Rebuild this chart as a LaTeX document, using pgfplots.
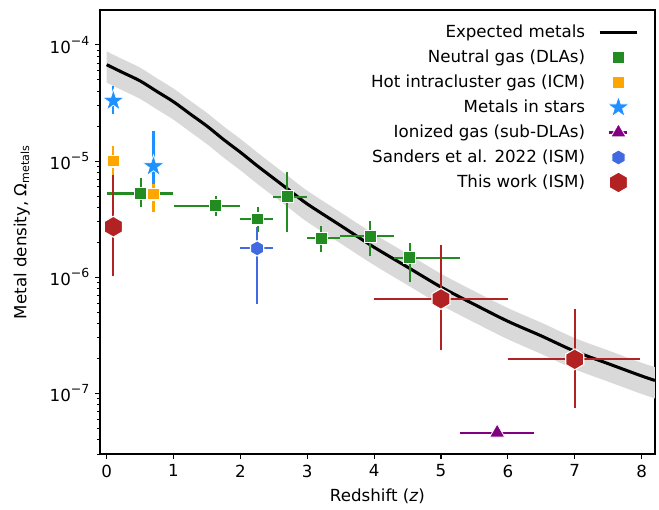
\documentclass[border=0pt,12pt]{standalone}
\usepackage{fontspec}
\setmainfont{DejaVu Sans}
\usepackage{pgfplots}
\usepackage{pgfplotstable}
\pgfplotsset{compat=1.18}
\usepgfplotslibrary{fillbetween}

\definecolor{dlagreen}{HTML}{228B22}
\definecolor{icmorange}{HTML}{FFA500}
\definecolor{starblue}{HTML}{1E90FF}
\definecolor{subpurple}{HTML}{800080}
\definecolor{sandblue}{HTML}{4169E1}
\definecolor{workred}{HTML}{B22222}
\definecolor{bandgray}{HTML}{D9D9D9}

% hexagon, vertex up
\pgfdeclareplotmark{hexa}{%
  \pgfpathmoveto{\pgfqpoint{0pt}{\pgfplotmarksize}}%
  \pgfpathlineto{\pgfqpoint{-0.866\pgfplotmarksize}{0.5\pgfplotmarksize}}%
  \pgfpathlineto{\pgfqpoint{-0.866\pgfplotmarksize}{-0.5\pgfplotmarksize}}%
  \pgfpathlineto{\pgfqpoint{0pt}{-\pgfplotmarksize}}%
  \pgfpathlineto{\pgfqpoint{0.866\pgfplotmarksize}{-0.5\pgfplotmarksize}}%
  \pgfpathlineto{\pgfqpoint{0.866\pgfplotmarksize}{0.5\pgfplotmarksize}}%
  \pgfpathclose
  \pgfusepathqfillstroke
}
% filled five-point star
\pgfdeclareplotmark{fstar}{%
  \pgfpathmoveto{\pgfqpoint{0pt}{\pgfplotmarksize}}%
  \pgfpathlineto{\pgfqpoint{-0.2245\pgfplotmarksize}{0.309\pgfplotmarksize}}%
  \pgfpathlineto{\pgfqpoint{-0.9511\pgfplotmarksize}{0.309\pgfplotmarksize}}%
  \pgfpathlineto{\pgfqpoint{-0.3633\pgfplotmarksize}{-0.118\pgfplotmarksize}}%
  \pgfpathlineto{\pgfqpoint{-0.5878\pgfplotmarksize}{-0.809\pgfplotmarksize}}%
  \pgfpathlineto{\pgfqpoint{0pt}{-0.382\pgfplotmarksize}}%
  \pgfpathlineto{\pgfqpoint{0.5878\pgfplotmarksize}{-0.809\pgfplotmarksize}}%
  \pgfpathlineto{\pgfqpoint{0.3633\pgfplotmarksize}{-0.118\pgfplotmarksize}}%
  \pgfpathlineto{\pgfqpoint{0.9511\pgfplotmarksize}{0.309\pgfplotmarksize}}%
  \pgfpathlineto{\pgfqpoint{0.2245\pgfplotmarksize}{0.309\pgfplotmarksize}}%
  \pgfpathclose
  \pgfusepathqfillstroke
}

\newcommand{\sci}[1]{10\raisebox{0.45em}{\fontsize{9}{9}\selectfont −#1}}

\pgfplotsset{
  lineleg/.style={legend image code/.code={%
    \path[draw=none, fill=none] (0pt,-8pt) rectangle (27pt,8pt);
    \draw[##1] (0pt,0pt) -- (27pt,0pt);}},
  markleg/.style={legend image code/.code={%
    \path[draw=none, fill=none] (0pt,-8pt) rectangle (27pt,8pt);
    \draw[##1] plot coordinates {(13.5pt,0pt)};}},
  triLeg/.style={legend image code/.code={%
    \path[draw=none, fill=none] (0pt,-8pt) rectangle (27pt,8pt);
    \draw[subpurple, line width=1.5pt] (7pt,0pt) -- (20pt,0pt);
    \draw[##1] plot coordinates {(13.5pt,0pt)};}},
  ebars/.style={error bars/.cd, x dir=both, x explicit, y dir=both, y explicit,
    error mark=none, error bar style={line width=1.5pt, solid, #1}},
}

% expected metal density and its band
\pgfplotstableread{
z      m        up       lo
0.0    6.76e-5  8.79e-5  4.73e-5
0.25   5.75e-5  7.48e-5  4.03e-5
0.5    4.90e-5  6.37e-5  3.43e-5
0.75   3.98e-5  5.17e-5  2.79e-5
1.0    3.24e-5  4.21e-5  2.27e-5
1.25   2.54e-5  3.30e-5  1.78e-5
1.5    2.00e-5  2.60e-5  1.40e-5
1.75   1.53e-5  1.99e-5  1.07e-5
2.0    1.19e-5  1.55e-5  8.33e-6
2.25   9.12e-6  1.19e-5  6.38e-6
2.5    7.08e-6  9.20e-6  4.96e-6
2.75   5.50e-6  7.15e-6  3.85e-6
3.0    4.27e-6  5.55e-6  2.99e-6
3.5    2.78e-6  3.61e-6  1.95e-6
4.0    1.81e-6  2.35e-6  1.27e-6
4.5    1.22e-6  1.59e-6  8.54e-7
5.0    8.22e-7  1.07e-6  5.75e-7
5.5    5.82e-7  7.57e-7  4.07e-7
6.0    4.17e-7  5.42e-7  2.92e-7
6.5    3.12e-7  4.06e-7  2.18e-7
7.0    2.30e-7  2.99e-7  1.61e-7
7.5    1.80e-7  2.34e-7  1.26e-7
8.0    1.41e-7  1.83e-7  9.87e-8
8.2    1.29e-7  1.68e-7  9.03e-8
}\band

\begin{document}
\begin{tikzpicture}
\begin{axis}[
  scale only axis, width=399.6pt, height=319.7pt,
  ymode=log,
  xmin=-0.1, xmax=8.2, ymin=3e-8, ymax=2e-4,
  xtick={0,1,2,3,4,5,6,7,8},
  ytick={1e-7,1e-6,1e-5,1e-4},
  yticklabels={\sci{7},\sci{6},\sci{5},\sci{4}},
  minor ytick={3e-8,4e-8,5e-8,6e-8,7e-8,8e-8,9e-8,
    2e-7,3e-7,4e-7,5e-7,6e-7,7e-7,8e-7,9e-7,
    2e-6,3e-6,4e-6,5e-6,6e-6,7e-6,8e-6,9e-6,
    2e-5,3e-5,4e-5,5e-5,6e-5,7e-5,8e-5,9e-5},
  xtick pos=bottom, ytick pos=left,
  tick align=outside,
  major tick length=3.5pt, minor tick length=2pt,
  every tick/.style={black, line width=0.8pt},
  every minor tick/.style={black, line width=0.6pt},
  axis line style={line width=0.8pt},
  /pgf/number format/assume math mode=true,
  xlabel={Redshift (\textit{z})},
  ylabel={Metal density, Ω\textsubscript{metals}},
  ylabel shift=6pt,
  legend plot pos=right,
  legend cell align=right,
  legend style={draw=none, fill=none, inner sep=0pt,
    at={(1,1)}, anchor=north east, xshift=-11.5pt, yshift=-7.8pt,
    row sep=2pt, column sep=7.4pt,
    nodes={inner sep=2pt, text depth=0.15em}},
]
% band and expected curve
\addplot[name path=up, draw=none, smooth, forget plot] table[x=z, y=up] {\band};
\addplot[name path=lo, draw=none, smooth, forget plot] table[x=z, y=lo] {\band};
\addplot[bandgray, forget plot] fill between[of=up and lo];
\addplot[black, line width=2.2pt, smooth, forget plot] table[x=z, y=m] {\band};

% Neutral gas (DLAs)
\addplot[only marks, forget plot, mark=square*, mark size=4.3pt,
  mark options={fill=dlagreen, draw=white, line width=0.8pt}, ebars=dlagreen]
  coordinates {
  (0.51,5.26e-6) += (0.48,1.94e-6) -= (0.50,1.22e-6)
  (1.63,4.13e-6) += (0.36,0.91e-6) -= (0.63,0.79e-6)
  (2.26,3.17e-6) += (0.23,0.83e-6) -= (0.27,0.70e-6)
  (2.70,4.93e-6) += (0.29,3.05e-6) -= (0.21,2.50e-6)
  (3.21,2.16e-6) += (0.28,0.62e-6) -= (0.22,0.52e-6)
  (3.94,2.25e-6) += (0.35,0.82e-6) -= (0.45,0.72e-6)
  (4.53,1.47e-6) += (0.76,0.49e-6) -= (0.23,0.57e-6)
};
% Hot intracluster gas (ICM)
\addplot[only marks, forget plot, mark=square*, mark size=4.3pt,
  mark options={fill=icmorange, draw=white, line width=0.8pt}, ebars=icmorange]
  coordinates {
  (0.10,1.0e-5) += (0,0.34e-5) -= (0,0.25e-5)
  (0.70,5.2e-6) += (0,2.0e-6) -= (0,1.54e-6)
};
% Metals in stars
\addplot[only marks, forget plot, mark=fstar, mark size=8.2pt,
  mark options={fill=starblue, draw=white, line width=0.5pt}, ebars=starblue]
  coordinates {
  (0.10,3.3e-5) += (0,1.1e-5) -= (0,0.76e-5)
  (0.70,9.0e-6) += (0,9.2e-6) -= (0,2.66e-6)
};
% Ionized gas (sub-DLAs)
\addplot[only marks, forget plot, mark=triangle*, mark size=6.3pt,
  mark options={fill=subpurple, draw=white, line width=0.6pt}, ebars=subpurple]
  coordinates {
  (5.84,4.58e-8) += (0.55,0) -= (0.55,0)
};
% Sanders et al. 2022
\addplot[only marks, forget plot, mark=hexa, mark size=5.5pt,
  mark options={fill=sandblue, draw=white, line width=0.8pt}, ebars=sandblue]
  coordinates {
  (2.25,1.77e-6) += (0.24,0.92e-6) -= (0.26,1.18e-6)
};
% This work
\addplot[only marks, forget plot, mark=hexa, mark size=7.5pt,
  mark options={fill=workred, draw=white, line width=0.8pt}, ebars=workred]
  coordinates {
  (0.10,2.72e-6) += (0,4.87e-6) -= (0,1.69e-6)
  (5.00,6.5e-7) += (1.0,1.25e-6) -= (1.0,4.16e-7)
  (7.00,1.96e-7) += (0.98,3.37e-7) -= (1.0,1.21e-7)
};

\addlegendimage{lineleg, black, line width=2.2pt}
\addlegendentry{Expected metals}
\addlegendimage{markleg, mark=square*, mark size=4.3pt, mark options={fill=dlagreen, draw=white, line width=0.8pt}}
\addlegendentry{Neutral gas (DLAs)}
\addlegendimage{markleg, mark=square*, mark size=4.3pt, mark options={fill=icmorange, draw=white, line width=0.8pt}}
\addlegendentry{Hot intracluster gas (ICM)}
\addlegendimage{markleg, mark=fstar, mark size=8.2pt, mark options={fill=starblue, draw=white, line width=0.5pt}}
\addlegendentry{Metals in stars}
\addlegendimage{triLeg, mark=triangle*, mark size=6.3pt, mark options={fill=subpurple, draw=white, line width=0.6pt}}
\addlegendentry{Ionized gas (sub-DLAs)}
\addlegendimage{markleg, mark=hexa, mark size=5.5pt, mark options={fill=sandblue, draw=white, line width=0.8pt}}
\addlegendentry{Sanders et al. 2022 (ISM)}
\addlegendimage{markleg, mark=hexa, mark size=7.5pt, mark options={fill=workred, draw=white, line width=0.8pt}}
\addlegendentry{This work (ISM)}
\end{axis}
\pgfresetboundingbox
\path[use as bounding box] (-72pt,-40.3pt) rectangle (402.5pt,326.9pt);
\end{tikzpicture}
\end{document}
